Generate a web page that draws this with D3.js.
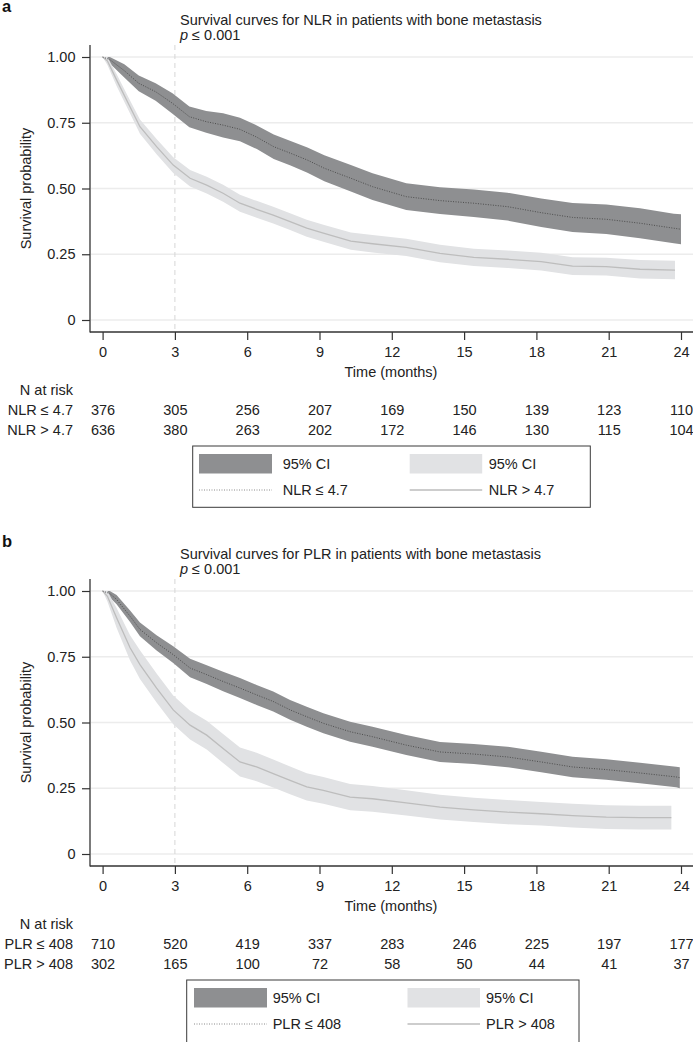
<!DOCTYPE html>
<html><head><meta charset="utf-8">
<script src="https://cdn.jsdelivr.net/npm/d3@7"></script>
<style>body{margin:0;background:#fff}svg{display:block;font-family:"Liberation Sans",Arial,Helvetica,sans-serif}</style>
</head><body>
<script>
// ---------- shared ticks ----------
const timeTicks = [0, 3, 6, 9, 12, 15, 18, 21, 24];
const probTicks = [0, 0.25, 0.5, 0.75, 1];
const probTickLabels = ["0", "0.25", "0.50", "0.75", "1.00"];

// ---------- panel a : NLR ----------
const nlrLowTime  = [0, 0.3, 0.9, 1.5, 2.2, 2.9, 3.6, 4.3, 5.0, 5.7, 6.4, 7.1, 7.8, 8.5, 9.2, 10.3, 11.2, 12.6, 14.0, 15.4, 16.8, 18.2, 19.5, 20.9, 22.3, 23.7, 24.0];
const nlrLowSurv  = [1.0, 0.99, 0.948, 0.90, 0.868, 0.824, 0.773, 0.754, 0.741, 0.725, 0.695, 0.659, 0.634, 0.608, 0.577, 0.539, 0.507, 0.469, 0.454, 0.444, 0.431, 0.408, 0.390, 0.383, 0.368, 0.349, 0.345];
const nlrLowUpper = [1.0, 1.0, 0.972, 0.93, 0.90, 0.862, 0.812, 0.795, 0.786, 0.769, 0.740, 0.705, 0.681, 0.656, 0.626, 0.589, 0.558, 0.520, 0.505, 0.496, 0.484, 0.462, 0.445, 0.439, 0.425, 0.404, 0.402];
const nlrLowLower = [1.0, 0.975, 0.922, 0.87, 0.834, 0.784, 0.733, 0.712, 0.694, 0.680, 0.650, 0.612, 0.587, 0.560, 0.528, 0.489, 0.456, 0.418, 0.403, 0.392, 0.378, 0.354, 0.335, 0.327, 0.311, 0.292, 0.288];

const nlrHighTime  = [0, 0.2, 0.58, 1.14, 1.55, 2.24, 2.93, 3.63, 4.32, 5.0, 5.7, 6.39, 7.08, 7.78, 8.47, 9.16, 10.3, 11.2, 12.6, 14.0, 15.4, 16.8, 18.2, 19.5, 20.9, 22.3, 23.75];
const nlrHighSurv  = [1.0, 0.985, 0.913, 0.81, 0.735, 0.659, 0.589, 0.539, 0.513, 0.482, 0.444, 0.421, 0.399, 0.374, 0.349, 0.33, 0.30, 0.29, 0.276, 0.253, 0.238, 0.231, 0.222, 0.205, 0.203, 0.193, 0.19];
const nlrHighUpper = [1.0, 1.0, 0.935, 0.835, 0.762, 0.688, 0.619, 0.57, 0.545, 0.514, 0.476, 0.453, 0.431, 0.406, 0.381, 0.362, 0.333, 0.323, 0.309, 0.286, 0.271, 0.264, 0.256, 0.239, 0.237, 0.228, 0.225];
const nlrHighLower = [1.0, 0.97, 0.89, 0.785, 0.708, 0.63, 0.559, 0.508, 0.481, 0.45, 0.412, 0.389, 0.367, 0.342, 0.317, 0.298, 0.267, 0.257, 0.243, 0.22, 0.205, 0.198, 0.188, 0.171, 0.169, 0.158, 0.155];

const nlrRiskLow  = [376, 305, 256, 207, 169, 150, 139, 123, 110];
const nlrRiskHigh = [636, 380, 263, 202, 172, 146, 130, 115, 104];

// ---------- panel b : PLR ----------
const plrLowTime  = [0, 0.3, 0.58, 1.14, 1.55, 2.24, 2.93, 3.63, 4.32, 5.0, 5.7, 6.39, 7.08, 7.78, 8.47, 9.16, 10.27, 11.2, 12.6, 14.0, 15.4, 16.8, 18.2, 19.5, 20.9, 22.3, 23.8, 23.95];
const plrLowSurv  = [1.0, 0.99, 0.968, 0.904, 0.854, 0.803, 0.758, 0.707, 0.682, 0.656, 0.631, 0.605, 0.58, 0.548, 0.522, 0.497, 0.465, 0.446, 0.414, 0.388, 0.38, 0.369, 0.35, 0.331, 0.321, 0.308, 0.293, 0.29];
const plrLowUpper = [1.0, 1.0, 0.985, 0.926, 0.88, 0.832, 0.79, 0.742, 0.718, 0.693, 0.669, 0.643, 0.618, 0.586, 0.56, 0.535, 0.503, 0.484, 0.452, 0.426, 0.418, 0.408, 0.389, 0.37, 0.36, 0.347, 0.332, 0.33];
const plrLowLower = [1.0, 0.975, 0.95, 0.882, 0.828, 0.774, 0.726, 0.672, 0.646, 0.619, 0.593, 0.567, 0.542, 0.51, 0.484, 0.459, 0.427, 0.408, 0.376, 0.35, 0.342, 0.33, 0.311, 0.292, 0.282, 0.269, 0.254, 0.25];

const plrHighTime  = [0, 0.2, 0.58, 1.14, 1.55, 2.24, 2.93, 3.63, 4.32, 5.0, 5.7, 6.39, 7.08, 7.78, 8.47, 9.16, 10.27, 11.2, 12.6, 14.0, 15.4, 16.8, 18.2, 19.5, 20.9, 22.3, 23.6];
const plrHighSurv  = [1.0, 0.98, 0.898, 0.784, 0.72, 0.631, 0.548, 0.49, 0.452, 0.401, 0.35, 0.331, 0.306, 0.28, 0.255, 0.242, 0.216, 0.21, 0.194, 0.178, 0.168, 0.159, 0.153, 0.146, 0.14, 0.138, 0.138];
const plrHighUpper = [1.0, 1.0, 0.935, 0.832, 0.775, 0.686, 0.603, 0.545, 0.507, 0.456, 0.405, 0.385, 0.359, 0.333, 0.307, 0.293, 0.266, 0.259, 0.242, 0.225, 0.214, 0.205, 0.198, 0.191, 0.185, 0.183, 0.183];
const plrHighLower = [1.0, 0.96, 0.86, 0.736, 0.665, 0.576, 0.493, 0.435, 0.397, 0.346, 0.295, 0.277, 0.253, 0.227, 0.203, 0.191, 0.166, 0.161, 0.146, 0.131, 0.122, 0.113, 0.108, 0.101, 0.095, 0.093, 0.093];

const plrRiskLow  = [710, 520, 419, 337, 283, 246, 225, 197, 177];
const plrRiskHigh = [302, 165, 100, 72, 58, 50, 44, 41, 37];

// ---------- drawing ----------
const W = 693, H = 1042;
const svg = d3.select("body").append("svg").attr("width", W).attr("height", H);
const FS = 14.5;
const txt = "#222";
const darkFill = "#8e8f91", lightFill = "#e1e2e4";
const darkLine = "#4d4d4d", lightLine = "#bdbdbd";

function zip(t, s, u, l) { return t.map((v, i) => ({t: v, s: s[i], hi: u[i], lo: l[i]})); }

function panel(cfg) {
  const o = cfg.off;
  const g = svg.append("g");
  const x = d3.scaleLinear().domain([0, 24]).range([102.6, 681]);
  const y = d3.scaleLinear().domain([0, 1]).range([320 + cfg.yAdj, 57 + cfg.yAdj]);
  const axY = 332 + o, axX = 90;

  // panel letter
  g.append("text").attr("x", 2).attr("y", cfg.letterY).attr("font-weight", "bold")
    .attr("font-size", 16.5).attr("fill", "#111").text(cfg.letter);
  // title
  g.append("text").attr("x", 180).attr("y", 25.3 + o).attr("font-size", FS).attr("fill", txt).text(cfg.title);
  const p = g.append("text").attr("x", 180).attr("y", 39.5 + o).attr("font-size", FS).attr("fill", txt);
  p.append("tspan").attr("font-style", "italic").text("p");
  p.append("tspan").text(" \u2264 0.001");

  // gridlines
  g.append("g").selectAll("line").data(probTicks).join("line")
    .attr("x1", axX + 1).attr("x2", W).attr("y1", d => y(d)).attr("y2", d => y(d))
    .attr("stroke", "#ececec").attr("stroke-width", 1.3);
  // dashed ref line at 3 months
  g.append("line").attr("x1", x(3)).attr("x2", x(3)).attr("y1", 45 + o).attr("y2", axY)
    .attr("stroke", "#d6d6d6").attr("stroke-width", 1).attr("stroke-dasharray", "5,4");

  const lowD = zip(...cfg.low), highD = zip(...cfg.high);
  const area = d3.area().x(d => x(d.t)).y0(d => y(d.lo)).y1(d => y(d.hi));
  const line = d3.line().x(d => x(d.t)).y(d => y(d.s));
  g.append("path").datum(lowD).attr("d", area).attr("fill", darkFill);
  g.append("path").datum(highD).attr("d", area).attr("fill", lightFill);
  g.append("path").datum(highD).attr("d", line).attr("fill", "none").attr("stroke", lightLine).attr("stroke-width", 1.3);
  g.append("path").datum(lowD).attr("d", line).attr("fill", "none").attr("stroke", darkLine)
    .attr("stroke-width", 1).attr("stroke-dasharray", "1,1.5");

  // axes
  const yAxis = g.append("g").attr("transform", `translate(${axX},0)`)
    .call(d3.axisLeft(y).tickValues(probTicks).tickFormat((d, i) => probTickLabels[i]).tickSize(8).tickPadding(6.5));
  const xAxis = g.append("g").attr("transform", `translate(0,${axY})`)
    .call(d3.axisBottom(x).tickValues(timeTicks).tickSize(8).tickPadding(6.7));
  [yAxis, xAxis].forEach(a => {
    a.select(".domain").remove();
    a.selectAll("line").attr("stroke", "#333").attr("stroke-width", 1.2);
    a.selectAll("text").attr("font-size", FS).attr("font-family", "Liberation Sans, Arial, sans-serif").attr("fill", txt);
  });
  g.append("line").attr("x1", axX).attr("x2", axX).attr("y1", 45 + o).attr("y2", axY + 0.6).attr("stroke", "#333").attr("stroke-width", 1.3);
  g.append("line").attr("x1", axX).attr("x2", W).attr("y1", axY).attr("y2", axY).attr("stroke", "#333").attr("stroke-width", 1.3);

  g.append("text").attr("transform", `translate(31,${188.5 + o}) rotate(-90)`).attr("text-anchor", "middle")
    .attr("font-size", FS).attr("fill", txt).text("Survival probability");
  g.append("text").attr("x", 391).attr("y", 377 + o).attr("text-anchor", "middle")
    .attr("font-size", FS).attr("fill", txt).text("Time (months)");

  // risk table
  g.append("text").attr("x", 73).attr("y", 395 + o).attr("text-anchor", "end").attr("font-size", FS).attr("fill", txt).text("N at risk");
  [[cfg.names[0], cfg.riskLow, 415], [cfg.names[1], cfg.riskHigh, 435]].forEach(([nm, arr, yy]) => {
    g.append("text").attr("x", 73).attr("y", yy + o).attr("text-anchor", "end").attr("font-size", FS).attr("fill", txt).text(nm);
    g.append("g").selectAll("text").data(arr).join("text")
      .attr("x", (d, i) => x(timeTicks[i]) + 0.5).attr("y", yy + o).attr("text-anchor", "middle")
      .attr("font-size", FS).attr("fill", txt).text(d => d);
  });

  // legend
  const L = cfg.leg;
  g.append("rect").attr("x", L.x).attr("y", 446 + o).attr("width", L.w).attr("height", L.h)
    .attr("fill", "#fff").attr("stroke", "#3a3a3a").attr("stroke-width", 1);
  g.append("rect").attr("x", L.s1).attr("y", 454 + o).attr("width", 73).attr("height", 19.5).attr("fill", darkFill);
  g.append("rect").attr("x", L.s2).attr("y", 454 + o).attr("width", 72.5).attr("height", 19.5).attr("fill", lightFill);
  g.append("line").attr("x1", L.s1).attr("x2", L.s1 + 73).attr("y1", 490 + o).attr("y2", 490 + o)
    .attr("stroke", "#8a8a8a").attr("stroke-width", 1).attr("stroke-dasharray", "1,1.5");
  g.append("line").attr("x1", L.s2).attr("x2", L.s2 + 72.5).attr("y1", 490 + o).attr("y2", 490 + o)
    .attr("stroke", lightLine).attr("stroke-width", 1.3);
  [[L.t1, 469, "95% CI"], [L.t2, 469, "95% CI"], [L.t1, 495, cfg.names[0]], [L.t2, 495, cfg.names[1]]].forEach(([xx, yy, s]) => {
    g.append("text").attr("x", xx).attr("y", yy + o).attr("font-size", FS).attr("fill", txt).text(s);
  });
}

panel({
  off: 0, yAdj: 0, letter: "a", letterY: 12,
  title: "Survival curves for NLR in patients with bone metastasis",
  low: [nlrLowTime, nlrLowSurv, nlrLowUpper, nlrLowLower],
  high: [nlrHighTime, nlrHighSurv, nlrHighUpper, nlrHighLower],
  names: ["NLR \u2264 4.7", "NLR > 4.7"],
  riskLow: nlrRiskLow, riskHigh: nlrRiskHigh,
  leg: {x: 192.7, w: 397.6, h: 61.3, s1: 199, s2: 409.7, t1: 282.7, t2: 488.7}
});
panel({
  off: 534, yAdj: 534, letter: "b", letterY: 546.5,
  title: "Survival curves for PLR in patients with bone metastasis",
  low: [plrLowTime, plrLowSurv, plrLowUpper, plrLowLower],
  high: [plrHighTime, plrHighSurv, plrHighUpper, plrHighLower],
  names: ["PLR \u2264 408", "PLR > 408"],
  riskLow: plrRiskLow, riskHigh: plrRiskHigh,
  leg: {x: 186.7, w: 392.3, h: 80, s1: 194, s2: 407.5, t1: 272.7, t2: 486}
});
</script>
</body></html>
